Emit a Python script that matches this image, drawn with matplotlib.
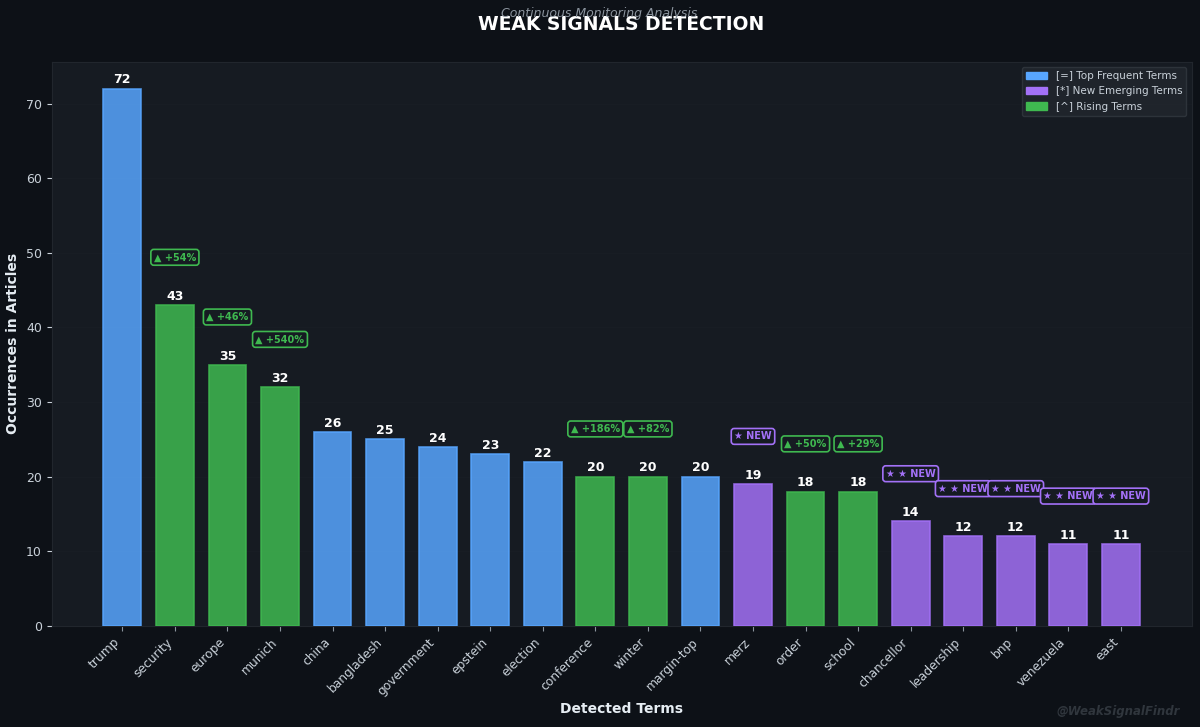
"""Weak signals detection bar chart (dark theme)."""
import matplotlib
matplotlib.use("Agg")
import matplotlib.pyplot as plt
from matplotlib.patches import Patch

# Data -------------------------------------------------------------------------
terms = ["trump", "security", "europe", "munich", "china", "bangladesh",
         "government", "epstein", "election", "conference", "winter",
         "margin-top", "merz", "order", "school", "chancellor", "leadership",
         "bnp", "venezuela", "east"]
counts = [72, 43, 35, 32, 26, 25, 24, 23, 22, 20, 20, 20, 19, 18, 18, 14,
          12, 12, 11, 11]
kinds = ["top", "rising", "rising", "rising", "top", "top", "top", "top",
         "top", "rising", "rising", "top", "new", "rising", "rising", "new",
         "new", "new", "new", "new"]
badges = ["", "▲ +54%", "▲ +46%", "▲ +540%", "", "", "", "", "",
          "▲ +186%", "▲ +82%", "", "★ NEW", "▲ +50%", "▲ +29%",
          "★ ★ NEW", "★ ★ NEW", "★ ★ NEW", "★ ★ NEW", "★ ★ NEW"]

# Style ------------------------------------------------------------------------
FIG_BG = "#0d1117"
AX_BG = "#161b22"
COLORS = {"top": "#58a6ff", "new": "#a371f7", "rising": "#3fb950"}

fig, ax = plt.subplots(figsize=(12, 7.27), dpi=100)
fig.patch.set_facecolor(FIG_BG)
ax.set_facecolor(AX_BG)

bar_colors = [COLORS[k] for k in kinds]
bars = ax.bar(range(len(terms)), counts, width=0.72, color=bar_colors,
              alpha=0.85, edgecolor=bar_colors, linewidth=1.2, zorder=3)

for i, (b, v) in enumerate(zip(bars, counts)):
    ax.text(b.get_x() + b.get_width() / 2, v + 0.3, str(v), ha="center",
            va="bottom", color="white", fontsize=9, fontweight="bold")
    if badges[i]:
        c = COLORS[kinds[i]]
        ax.text(b.get_x() + b.get_width() / 2, v + 6.4, badges[i],
                ha="center", va="center", color=c, fontsize=7,
                fontweight="bold",
                bbox=dict(boxstyle="round,pad=0.3", facecolor=AX_BG,
                          edgecolor=c, linewidth=1.2))

ax.set_ylim(0, max(counts) * 1.05)
ax.set_xticks(range(len(terms)))
ax.set_xticklabels(terms, rotation=45, ha="right", color="#c9d1d9",
                   fontsize=8.8)
ax.tick_params(axis="y", colors="#c9d1d9", labelsize=9)
ax.tick_params(axis="x", colors="#8b949e")
for lab in ax.get_xticklabels():
    lab.set_color("#c9d1d9")
ax.grid(axis="y", color="#21262d", linewidth=0.5, alpha=0.3, zorder=0)
for sp in ax.spines.values():
    sp.set_color("#21262d")

ax.set_xlabel("Detected Terms", color="#e6edf3", fontsize=10,
              fontweight="bold", labelpad=3)
ax.set_ylabel("Occurrences in Articles", color="#e6edf3", fontsize=10,
              fontweight="bold")

handles = [Patch(color=COLORS["top"], label="[=] Top Frequent Terms"),
           Patch(color=COLORS["new"], label="[*] New Emerging Terms"),
           Patch(color=COLORS["rising"], label="[^] Rising Terms")]
leg = ax.legend(handles=handles, loc="upper right", fontsize=7.5,
                facecolor="#21262d", edgecolor="#30363d", labelcolor="#c9d1d9",
                framealpha=0.9)

fig.text(0.518, 0.966, "WEAK SIGNALS DETECTION", ha="center", va="center",
         color="white", fontsize=13.5, fontweight="bold")
fig.text(0.499, 0.982, "Continuous Monitoring Analysis", ha="center",
         va="center", color="#8b949e", fontsize=9, style="italic")
fig.text(0.983, 0.012, "@WeakSignalFindr", ha="right", va="bottom",
         color="#30363d", fontsize=8.5, style="italic", fontweight="bold")

fig.subplots_adjust(left=0.043, right=0.993, top=0.915, bottom=0.139)
fig.savefig("out.png", facecolor=FIG_BG)
